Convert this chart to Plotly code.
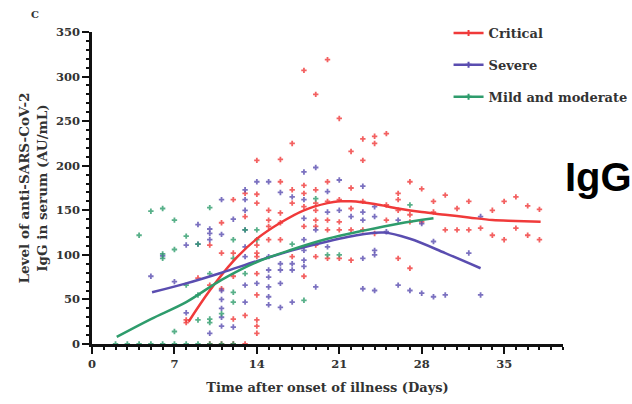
import plotly.graph_objects as go

# ---------------- data ----------------
crit_x = [8, 8, 9, 10, 10, 10, 11, 11, 11, 11, 12, 12, 12, 12, 12, 13, 13, 13, 13,
          14, 14, 14, 14, 14, 14, 14, 14, 14, 14, 14, 15, 15, 15, 15,
          16, 16, 16, 16, 16, 17, 17, 17, 17, 18, 18, 18, 18, 18, 18,
          19, 19, 19, 19, 19, 19, 19, 19, 20, 20, 20, 20, 20, 20,
          21, 21, 21, 21, 21, 22, 22, 22, 22, 22, 23, 23, 23, 23,
          24, 24, 24, 25, 25, 25, 26, 26, 26, 26, 27, 27, 27, 27,
          28, 28, 29, 29, 30, 30, 31, 31, 32, 32, 33, 34, 34, 35, 35,
          36, 36, 37, 37, 38, 38]
crit_y = [27, 24, 74, 111, 66, 0, 136, 102, 62, 0, 162, 102, 76, 28, 0, 169, 143, 32, 0,
          206, 168, 158, 111, 102, 98, 79, 55, 27, 20, 12, 150, 139, 132, 117,
          207, 182, 147, 136, 117, 225, 173, 158, 98, 307, 178, 169, 154, 132, 76,
          280, 173, 158, 150, 139, 132, 111, 98, 319, 182, 160, 139, 128, 96,
          253, 162, 137, 128, 96, 216, 175, 152, 128, 94, 230, 206, 160, 128,
          233, 225, 124, 236, 156, 139, 169, 162, 150, 96, 182, 145, 137, 85,
          174, 137, 160, 148, 167, 128, 152, 128, 160, 128, 130, 150, 122, 160, 117,
          165, 130, 155, 122, 151, 117]

sev_x = [5, 6, 7, 8, 8, 9, 9, 10, 10, 10, 10, 11, 11, 11, 11, 11, 11, 11, 12, 12,
         13, 13, 13, 13, 13, 13, 13, 13, 14, 14, 15, 15, 15, 15, 15, 15, 15,
         16, 16, 16, 16, 16, 17, 17, 17, 17, 18, 18, 18, 18, 18, 18, 18,
         19, 19, 19, 20, 20, 20, 21, 21, 22, 23, 23, 23, 23, 23,
         24, 24, 24, 24, 24, 25, 26, 26, 27, 28, 28, 29, 29, 30, 32, 33, 33]
sev_y = [76, 99, 70, 111, 35, 134, 112, 129, 124, 117, 12, 162, 123, 60, 50, 40, 30, 20, 140, 19,
         173, 162, 150, 128, 109, 98, 66, 47, 182, 68, 182, 98, 83, 75, 64, 53, 44,
         170, 90, 83, 68, 41, 165, 90, 83, 47, 193, 162, 141, 117, 105, 94, 87,
         198, 128, 64, 171, 148, 109, 184, 150, 143, 177, 148, 139, 96, 62,
         154, 143, 105, 100, 60, 126, 139, 66, 60, 135, 57, 115, 53, 55, 102, 143, 55]

mild_x = [2, 3, 4, 4, 5, 5, 6, 6, 6, 6, 7, 7, 7, 7, 8, 8, 8, 9, 9, 9, 9,
          10, 10, 10, 10, 10, 11, 11, 12, 12, 12, 12, 12, 13, 13, 14, 14,
          17, 18, 19, 20, 21, 27]
mild_y = [0, 0, 122, 0, 149, 0, 152, 101, 96, 0, 139, 106, 14, 0, 121, 66, 0, 112, 55, 27, 0,
          153, 79, 28, 24, 0, 34, 0, 117, 96, 58, 47, 0, 128, 79, 128, 117,
          112, 49, 163, 100, 100, 156]

crit_fit_x = [8.2, 10, 12, 14, 16, 18, 20, 21, 22, 24, 26, 28, 30, 32, 34, 36, 38.1]
crit_fit_y = [25, 60, 93, 118, 136, 150, 158, 160, 160, 157, 152, 148, 145, 142, 139, 138, 137]
sev_fit_x = [5.1, 8, 11, 14, 17, 20, 23, 24.8, 27, 30, 33]
sev_fit_y = [58, 68, 80, 93, 105, 115, 123, 125, 118, 102, 85]
mild_fit_x = [2.1, 5, 8, 11, 14, 17, 20, 23, 26, 29]
mild_fit_y = [8, 28, 47, 72, 92, 106, 118, 127, 135, 141]

names = ["Critical", "Severe", "Mild and moderate"]
colors = ["#F03A3A", "#5A4DB0", "#2E9C6C"]
x_ticks = [0, 7, 14, 21, 28, 35]
y_ticks = [0, 50, 100, 150, 200, 250, 300, 350]

# ---------------- figure ----------------
SERIF = "DejaVu Serif"
fig = go.Figure()

groups = [(crit_x, crit_y, crit_fit_x, crit_fit_y),
          (sev_x, sev_y, sev_fit_x, sev_fit_y),
          (mild_x, mild_y, mild_fit_x, mild_fit_y)]

for (px, py, fx, fy), name, col in zip(groups, names, colors):
    fig.add_trace(go.Scatter(x=px, y=py, mode="markers", showlegend=False,
                             marker=dict(symbol="cross", size=4.5, color=col, opacity=0.8),
                             hoverinfo="skip"))

for (px, py, fx, fy), name, col in zip(groups, names, colors):
    fig.add_trace(go.Scatter(x=fx, y=fy, mode="lines", showlegend=False,
                             line=dict(color=col, width=2.5, shape="spline"),
                             hoverinfo="skip"))

for name, col in zip(names, colors):
    fig.add_trace(go.Scatter(x=[None], y=[None], mode="lines+markers", name=name,
                             legendgroup=name,
                             line=dict(color=col, width=2.5),
                             marker=dict(symbol="cross", size=5, color=col)))

axis_common = dict(showline=True, linecolor="#111", linewidth=2.5, ticks="outside",
                   tickcolor="#111", tickwidth=2, ticklen=7, showgrid=False, zeroline=False,
                   tickfont=dict(family=SERIF, size=11.5, color="#333", weight="bold"))

fig.update_xaxes(range=[0, 40], tickvals=x_ticks, ticktext=[str(v) for v in x_ticks],
                 minor=dict(ticks="outside", dtick=1, ticklen=3, tickwidth=1.5, tickcolor="#111"),
                 title=dict(text="Time after onset of illness (Days)", standoff=14,
                            font=dict(family=SERIF, size=13, color="#333", weight="bold")),
                 **axis_common)
fig.update_yaxes(range=[0, 350], tickvals=y_ticks, ticktext=[str(v) for v in y_ticks],
                 minor=dict(ticks="outside", dtick=10, ticklen=3, tickwidth=1.5, tickcolor="#111"),
                 title=dict(text="Level of anti-SARS-CoV-2<br>IgG in serum (AU/mL)", standoff=6,
                            font=dict(family=SERIF, size=13.5, color="#333", weight="bold")),
                 **axis_common)

fig.update_layout(
    width=632, height=404,
    margin=dict(l=92, r=69, t=32, b=60, autoexpand=False),
    plot_bgcolor="white", paper_bgcolor="white",
    legend=dict(x=0.757, y=1.045, xanchor="left", yanchor="top",
                traceorder="grouped", tracegroupgap=12,
                bgcolor="rgba(0,0,0,0)",
                font=dict(family=SERIF, size=13, color="#333", weight="bold")),
    annotations=[
        dict(text="C", x=(35 - 92) / 471, y=(344 - 15) / 312, xref="paper", yref="paper",
             xanchor="center", yanchor="middle", showarrow=False,
             font=dict(family=SERIF, size=10, color="#333", weight="bold")),
        dict(text="IgG", xref="paper", yref="paper", x=1.0, y=0.534, xanchor="left",
             yanchor="middle", showarrow=False,
             font=dict(family="Liberation Sans", size=40, color="black", weight="bold")),
    ],
)

fig.write_html("out.html")
